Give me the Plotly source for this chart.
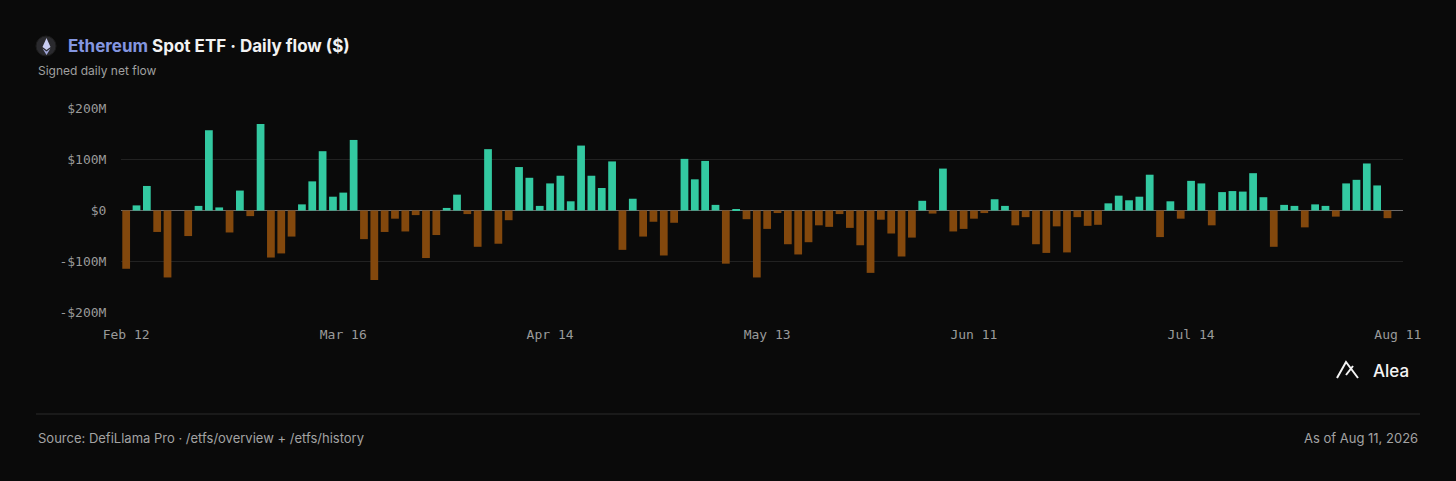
import pandas as pd
import plotly.graph_objects as go

# trading days Feb 12 - Aug 11 2026 (NYSE holidays removed)
holidays = ["2026-02-16", "2026-04-03", "2026-05-25", "2026-06-19", "2026-07-03"]
days = [d for d in pd.bdate_range("2026-02-12", "2026-08-11").strftime("%Y-%m-%d") if d not in holidays]

# daily net flow, $M (last day has no print yet)
flows = [
    -114, 10, 48, -42, -131, 0, -50, 9, 157, 6, -43, 39, -11, 169, -92,
    -84, -51, 12, 57, 116, 27, 35, 138, -56, -136, -42, -16, -41, -9, -93,
    -48, 5, 31, -7, -71, 120, -65, -19, 85, 64, 9, 53, 68, 18, 127,
    68, 44, 96, -77, 23, -51, -22, -88, -24, 101, 61, 97, 11, -104, 3, -17,
    -131, -36, -5, -66, -86, -62, -29, -32, -7, -34, -68, -122, -18, -45, -90,
    -53, 19, -6, 82, -41, -36, -16, -5, 22, 9, -29, -13, -66, -83, -31, -82,
    -13, -30, -28, 14, 29, 20, 27, 70, -52, 18, -16, 58, 53, -29, 36,
    38, 37, 73, 26, -71, 11, 9, -33, 12, 9, -12, 53, 60, 92, 49, -15, None,
]

tick_days = ["2026-02-12", "2026-03-16", "2026-04-14", "2026-05-13", "2026-06-11", "2026-07-14", "2026-08-11"]
tick_text = ["Feb 12", "Mar 16", "Apr 14", "May 13", "Jun 11", "Jul 14", "Aug 11"]
y_ticks = [-200, -100, 0, 100, 200]
y_text = ["-$200M", "-$100M", "$0", "$100M", "$200M"]

W, H = 1456, 481
L, R, T, B = 121, 53, 108, 168
PW, PH = W - L - R, H - T - B


def px(x):
    return (x - L) / PW


def py(y):
    return (H - B - y) / PH


colors = ["#33c9a1" if (v or 0) >= 0 else "#83480d" for v in flows]

fig = go.Figure()
fig.add_trace(go.Bar(x=days, y=flows, marker=dict(color=colors, line_width=0), hoverinfo="skip"))

fig.update_layout(
    width=W, height=H,
    margin=dict(l=L, r=R, t=T, b=B),
    paper_bgcolor="#0a0a0a", plot_bgcolor="#0a0a0a",
    bargap=0.25, showlegend=False,
    font=dict(family="DejaVu Sans Mono", color="#9a9a9a", size=13),
    xaxis=dict(type="category", tickvals=tick_days, ticktext=tick_text,
               showgrid=False, zeroline=False, showline=False,
               ticks="outside", ticklen=9, tickcolor="rgba(0,0,0,0)"),
    yaxis=dict(range=[-200.5, 200.5], tickvals=y_ticks, ticktext=y_text,
               showgrid=True, gridcolor="#222222", gridwidth=1,
               zeroline=True, zerolinecolor="#6a6a6a", zerolinewidth=1,
               ticks="outside", ticklen=11, tickcolor="rgba(0,0,0,0)"),
)

sans = "Inter"
anns = [
    dict(x=px(66), y=py(46), xanchor="left", yanchor="middle",
         text="<b><span style='color:#8496e0'>Ethereum</span> Spot ETF · Daily flow ($)</b>",
         font=dict(family=sans, size=17, color="#f2f2f2")),
    dict(x=px(36), y=py(70), xanchor="left", yanchor="middle",
         text="Signed daily net flow", font=dict(family=sans, size=12, color="#a0a0a0")),
    dict(x=px(1371), y=py(371), xanchor="left", yanchor="middle",
         text="Alea", font=dict(family=sans, size=17, color="#f4f4f4", weight=500)),
    dict(x=px(36), y=py(438), xanchor="left", yanchor="middle",
         text="Source: DefiLlama Pro · /etfs/overview + /etfs/history",
         font=dict(family=sans, size=13, color="#a3a3a3")),
    dict(x=px(1420), y=py(438), xanchor="right", yanchor="middle",
         text="As of Aug 11, 2026", font=dict(family=sans, size=13, color="#a3a3a3")),
]
for a in anns:
    a.update(xref="paper", yref="paper", showarrow=False)
    fig.add_annotation(**a)

# footer rule
fig.add_shape(type="line", xref="paper", yref="paper", x0=px(36), x1=px(1420), y0=py(414), y1=py(414),
              line=dict(color="#2a2a2a", width=1))
# ethereum badge
fig.add_shape(type="circle", xref="paper", yref="paper", x0=px(36), x1=px(56), y0=py(56), y1=py(36),
              fillcolor="#2a2a2e", line=dict(color="#1c1c1c", width=1))
fig.add_shape(type="path", xref="paper", yref="paper",
              path=f"M{px(46.5)},{py(38)} L{px(50.5)},{py(47)} L{px(46.5)},{py(50)} L{px(42.5)},{py(47)} Z",
              fillcolor="#c9cdf2", line_width=0)
fig.add_shape(type="path", xref="paper", yref="paper",
              path=f"M{px(42.5)},{py(48.5)} L{px(46.5)},{py(51.5)} L{px(50.5)},{py(48.5)} L{px(46.5)},{py(55)} Z",
              fillcolor="#9ea4d6", line_width=0)
# alea mark
fig.add_shape(type="path", xref="paper", yref="paper",
              path=f"M{px(1337)},{py(378)} L{px(1346)},{py(362)} L{px(1358)},{py(378)} M{px(1346)},{py(375)} L{px(1353)},{py(366)}",
              line=dict(color="#f4f4f4", width=2))

# drop the default page margin so the figure sits flush in the window
fig.write_html("out.html", config={"displayModeBar": False},
               post_script="document.body.style.margin='0';document.body.style.background='#0a0a0a';")
